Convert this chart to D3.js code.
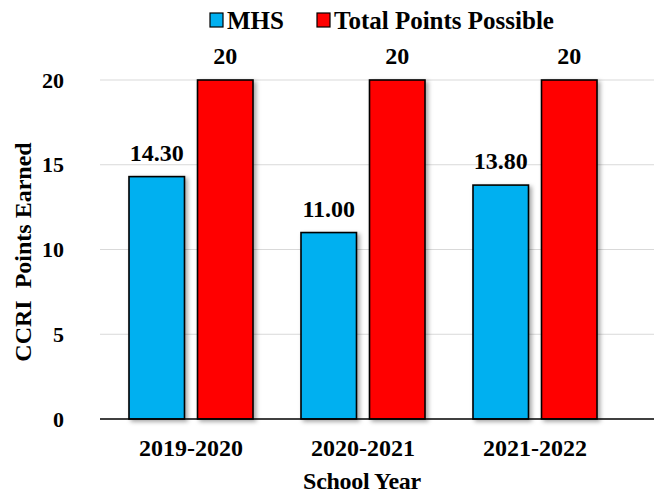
<!DOCTYPE html>
<html>
<head>
<meta charset="utf-8">
<script src="https://cdn.jsdelivr.net/npm/d3@7"></script>
<style>
  body { margin: 0; background: #fff; }
  text { font-family: "Liberation Serif", "Times New Roman", serif; font-weight: bold; fill: #000; }
</style>
</head>
<body>
<svg id="chart"></svg>
<script>
// CCRI points, MHS vs total possible, per school year
var WIDTH = 654;
var HEIGHT = 495;

var years = ['2019-2020', '2020-2021', '2021-2022'];
var seriesNames = ['MHS', 'Total Points Possible'];
var mhsPoints = [14.30, 11.00, 13.80];
var totalPoints = [20, 20, 20];
var yTicks = [0, 5, 10, 15, 20];
var COLORS = ['#00b0f0', '#ff0000'];

var rows = years.map(function(y, i) {
  return {year: y, values: [mhsPoints[i], totalPoints[i]]};
});

var svg = d3.select('#chart').attr('width', WIDTH).attr('height', HEIGHT);

// soft shadow like the office chart
var defs = svg.append('defs');
defs.append('filter').attr('id', 'shadow')
    .attr('x', '-20%').attr('y', '-20%').attr('width', '150%').attr('height', '150%')
  .append('feDropShadow')
    .attr('dx', 2.5).attr('dy', 2).attr('stdDeviation', 2)
    .attr('flood-color', '#000').attr('flood-opacity', 0.35);

var x0 = d3.scaleBand().domain(years).range([105, 621]).paddingInner(0.279).paddingOuter(0.1395);
var x1 = d3.scaleBand().domain(seriesNames).range([0, x0.bandwidth()]).paddingInner(0.19);
var y = d3.scaleLinear().domain([0, 20]).range([419, 80]);
var color = d3.scaleOrdinal().domain(seriesNames).range(COLORS);

// gridlines
svg.append('g')
  .selectAll('line')
  .data(yTicks.filter(function(d) { return d > 0; }))
  .enter().append('line')
    .attr('x1', 100).attr('x2', WIDTH)
    .attr('y1', function(d) { return y(d); })
    .attr('y2', function(d) { return y(d); })
    .attr('stroke', '#d9d9d9').attr('stroke-width', 1.2);

// y axis labels
var yAxis = d3.axisLeft(y).tickValues(yTicks).tickSize(0).tickPadding(0);
var yg = svg.append('g').attr('transform', 'translate(64,0)').call(yAxis);
yg.select('.domain').remove();
yg.selectAll('text').style('font-size', '22px')
  .style('font-family', '"Liberation Serif", serif').style('font-weight', 'bold');

// bars
var groups = svg.append('g').selectAll('g')
  .data(rows)
  .enter().append('g')
    .attr('transform', function(d) { return 'translate(' + x0(d.year) + ',0)'; });

groups.selectAll('rect')
  .data(function(d) { return d.values.map(function(v, i) { return {key: seriesNames[i], value: v}; }); })
  .enter().append('rect')
    .attr('x', function(d) { return x1(d.key); })
    .attr('y', function(d) { return y(d.value); })
    .attr('width', x1.bandwidth())
    .attr('height', function(d) { return y(0) - y(d.value); })
    .attr('fill', function(d) { return color(d.key); })
    .attr('stroke', '#000').attr('stroke-width', 1.6)
    .attr('filter', 'url(#shadow)');

groups.selectAll('text.val')
  .data(function(d) { return d.values.map(function(v, i) { return {key: seriesNames[i], value: v}; }); })
  .enter().append('text')
    .attr('class', 'val')
    .attr('x', function(d) { return x1(d.key) + x1.bandwidth() / 2; })
    .attr('y', function(d) { return y(d.value) - 16; })
    .attr('text-anchor', 'middle')
    .style('font-size', '24px')
    .text(function(d) { return d.key === 'MHS' ? d3.format('.2f')(d.value) : d3.format('d')(d.value); });

// x axis
var xAxis = d3.axisBottom(x0).tickSize(0).tickPadding(20);
var xg = svg.append('g').attr('transform', 'translate(0,' + y(0) + ')').call(xAxis);
xg.select('.domain').remove();
xg.selectAll('text').style('font-size', '24px')
  .style('font-family', '"Liberation Serif", serif').style('font-weight', 'bold');
svg.append('line')
  .attr('x1', 100).attr('x2', WIDTH)
  .attr('y1', y(0)).attr('y2', y(0))
  .attr('stroke', '#000').attr('stroke-width', 1.5);

// axis titles
svg.append('text')
  .attr('transform', 'translate(31,252) rotate(-90)')
  .attr('text-anchor', 'middle')
  .style('font-size', '24px')
  .attr('xml:space', 'preserve')
  .text('CCRI  Points Earned');

svg.append('text')
  .attr('x', 362).attr('y', 489)
  .attr('text-anchor', 'middle')
  .style('font-size', '24px')
  .style('letter-spacing', '-0.3px')
  .text('School Year');

// legend
var legendX = [210, 317];
var legend = svg.append('g').selectAll('g')
  .data(seriesNames)
  .enter().append('g')
    .attr('transform', function(d, i) { return 'translate(' + legendX[i] + ',13)'; });
legend.append('rect')
  .attr('width', 13).attr('height', 14)
  .attr('fill', function(d) { return color(d); })
  .attr('stroke', '#000').attr('stroke-width', 1.2);
legend.append('text')
  .attr('x', 17).attr('y', 16)
  .style('font-size', '25px')
  .text(function(d) { return d; });
</script>
</body>
</html>
